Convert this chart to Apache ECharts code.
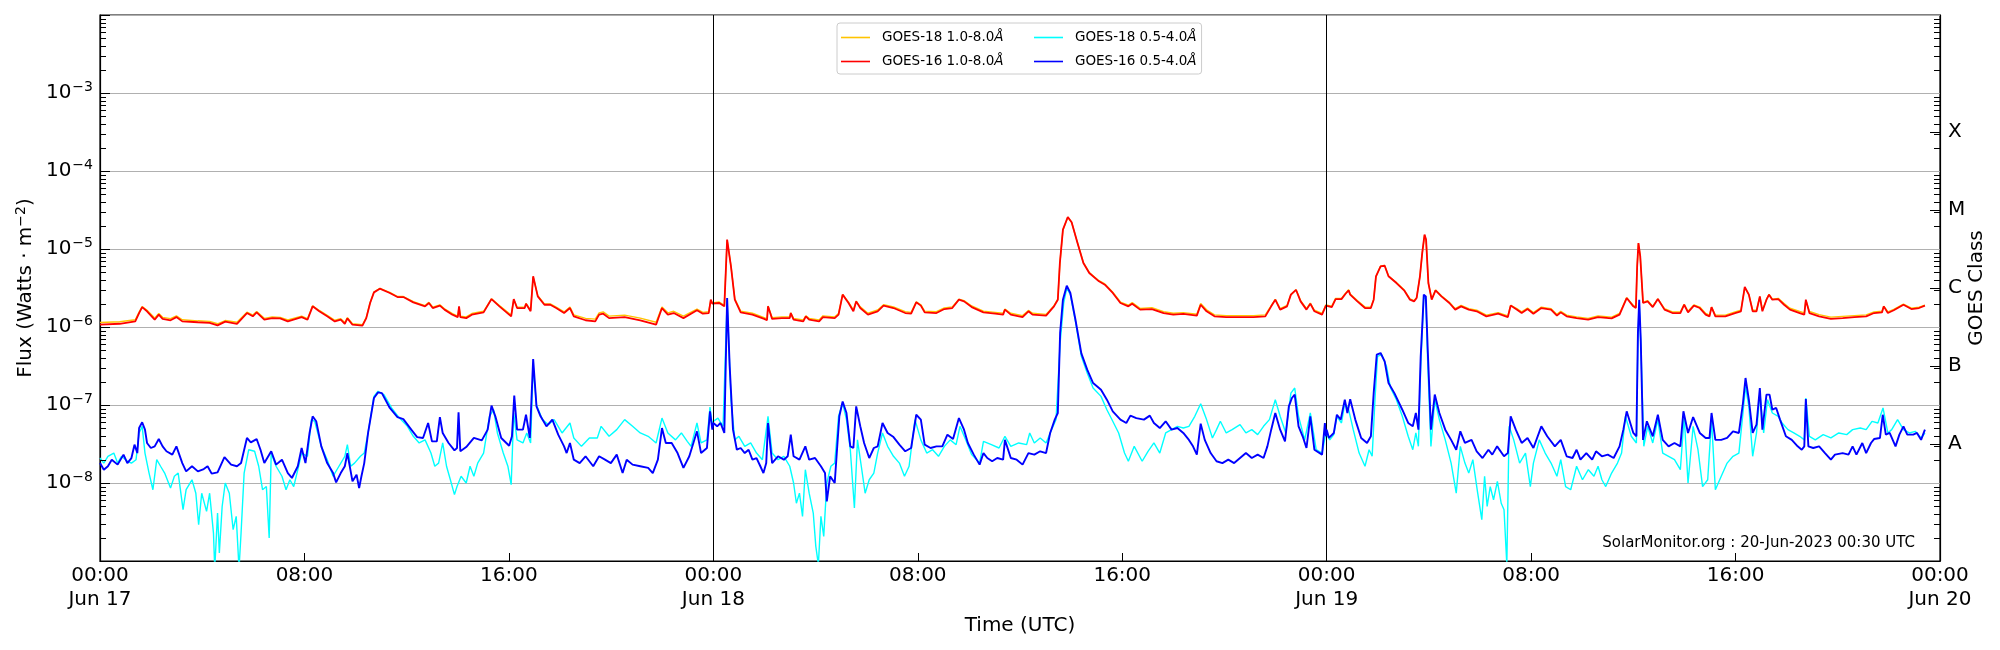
<!DOCTYPE html>
<html><head><meta charset="utf-8">
<script src="https://cdn.jsdelivr.net/npm/echarts@6/dist/echarts.min.js"></script>
<style>html,body{margin:0;padding:0;background:#fff}#c{width:2000px;height:650px}</style>
</head><body><div id="c"></div>
<script>
// ---- data (time in hours since 2023-06-17 00:00 UTC, flux in W/m^2) ----
const seriesNames = ['GOES-18 1.0-8.0Å', 'GOES-16 1.0-8.0Å', 'GOES-18 0.5-4.0Å', 'GOES-16 0.5-4.0Å'];
const xTickLabels = ['00:00\nJun 17','08:00','16:00','00:00\nJun 18','08:00','16:00','00:00\nJun 19','08:00','16:00','00:00\nJun 20'];
const yTickPowers = [-8, -7, -6, -5, -4, -3];
const classLetters = ['A', 'B', 'C', 'M', 'X'];
const classTickValues = [3.1623e-8, 3.1623e-7, 3.1623e-6, 3.1623e-5, 3.1623e-4];
const dayBoundaries = [24, 48];
const watermark = 'SolarMonitor.org : 20-Jun-2023 00:30 UTC';

const goes16Long = [
[0.00,1.07e-6],[0.77,1.10e-6],[1.38,1.18e-6],[1.53,1.51e-6],[1.65,1.80e-6],[1.84,1.59e-6],[2.14,1.24e-6],[2.30,1.44e-6],[2.45,1.27e-6],[2.76,1.22e-6],[2.99,1.34e-6],[3.22,1.18e-6],[3.83,1.15e-6],[4.29,1.13e-6],[4.60,1.05e-6],[4.90,1.17e-6],[5.36,1.10e-6],[5.75,1.51e-6],[5.98,1.37e-6],[6.13,1.54e-6],[6.43,1.24e-6],[6.74,1.30e-6],[7.05,1.29e-6],[7.35,1.18e-6],[7.89,1.34e-6],[8.12,1.24e-6],[8.32,1.84e-6],[8.58,1.59e-6],[8.89,1.37e-6],[9.19,1.18e-6],[9.42,1.24e-6],[9.58,1.10e-6],[9.68,1.29e-6],[9.88,1.07e-6],[10.27,1.04e-6],[10.42,1.30e-6],[10.57,2.03e-6],[10.72,2.78e-6],[10.95,3.10e-6],[11.34,2.73e-6],[11.64,2.42e-6],[11.87,2.42e-6],[12.26,2.07e-6],[12.72,1.84e-6],[12.87,2.03e-6],[13.02,1.75e-6],[13.30,1.88e-6],[13.48,1.67e-6],[13.79,1.44e-6],[14.00,1.34e-6],[14.05,1.84e-6],[14.10,1.34e-6],[14.33,1.30e-6],[14.55,1.44e-6],[15.01,1.54e-6],[15.32,2.28e-6],[15.63,1.84e-6],[16.09,1.37e-6],[16.19,2.28e-6],[16.32,1.75e-6],[16.62,1.75e-6],[16.67,1.99e-6],[16.85,1.59e-6],[16.95,4.47e-6],[17.13,2.47e-6],[17.39,1.93e-6],[17.62,1.93e-6],[17.85,1.75e-6],[18.16,1.51e-6],[18.39,1.75e-6],[18.54,1.37e-6],[19.00,1.22e-6],[19.38,1.18e-6],[19.53,1.44e-6],[19.69,1.48e-6],[19.92,1.30e-6],[20.53,1.34e-6],[21.14,1.22e-6],[21.76,1.07e-6],[21.99,1.75e-6],[22.22,1.44e-6],[22.45,1.51e-6],[22.83,1.30e-6],[23.36,1.64e-6],[23.59,1.48e-6],[23.82,1.51e-6],[23.90,2.24e-6],[23.96,1.99e-6],
[24.00,1.93e-6],[24.23,2.03e-6],[24.43,1.84e-6],[24.54,1.32e-5],[24.69,6.0e-6],[24.84,2.24e-6],[25.07,1.54e-6],[25.53,1.44e-6],[25.99,1.27e-6],[26.10,1.22e-6],[26.14,1.84e-6],[26.30,1.27e-6],[26.68,1.30e-6],[26.99,1.30e-6],[27.03,1.51e-6],[27.14,1.24e-6],[27.52,1.18e-6],[27.62,1.37e-6],[27.75,1.24e-6],[28.14,1.18e-6],[28.29,1.34e-6],[28.75,1.30e-6],[28.90,1.44e-6],[29.06,2.6e-6],[29.29,2.03e-6],[29.48,1.59e-6],[29.59,2.13e-6],[29.75,1.75e-6],[30.05,1.44e-6],[30.43,1.59e-6],[30.66,1.88e-6],[31.05,1.75e-6],[31.51,1.51e-6],[31.74,1.48e-6],[31.94,2.07e-6],[32.12,1.88e-6],[32.27,1.54e-6],[32.73,1.51e-6],[33.04,1.70e-6],[33.35,1.75e-6],[33.61,2.24e-6],[33.81,2.13e-6],[34.11,1.80e-6],[34.57,1.54e-6],[35.03,1.48e-6],[35.34,1.44e-6],[35.41,1.67e-6],[35.64,1.44e-6],[36.10,1.34e-6],[36.33,1.59e-6],[36.49,1.44e-6],[37.02,1.40e-6],[37.33,1.84e-6],[37.48,2.24e-6],[37.56,6.6e-6],[37.68,1.77e-5],[37.87,2.57e-5],[38.02,2.2e-5],[38.25,1.19e-5],[38.48,6.6e-6],[38.71,4.92e-6],[39.09,3.85e-6],[39.32,3.49e-6],[39.63,2.73e-6],[39.93,2.03e-6],[40.24,1.84e-6],[40.39,1.99e-6],[40.70,1.67e-6],[41.16,1.70e-6],[41.62,1.51e-6],[42.00,1.44e-6],[42.39,1.47e-6],[42.92,1.40e-6],[43.07,1.93e-6],[43.30,1.59e-6],[43.61,1.37e-6],[44.07,1.34e-6],[44.61,1.34e-6],[45.14,1.34e-6],[45.60,1.37e-6],[45.83,1.84e-6],[45.99,2.24e-6],[46.18,1.67e-6],[46.45,1.84e-6],[46.60,2.6e-6],[46.80,3.0e-6],[46.98,2.13e-6],[47.21,1.67e-6],[47.36,1.99e-6],[47.52,1.59e-6],[47.82,1.44e-6],[47.97,1.88e-6],
[48.20,1.80e-6],[48.35,2.28e-6],[48.58,2.28e-6],[48.74,2.67e-6],[48.86,2.95e-6],[48.92,2.6e-6],[49.20,2.13e-6],[49.50,1.75e-6],[49.73,1.75e-6],[49.84,2.24e-6],[49.93,4.47e-6],[50.11,6.0e-6],[50.27,6.1e-6],[50.42,4.47e-6],[50.73,3.66e-6],[51.03,2.95e-6],[51.26,2.24e-6],[51.42,2.13e-6],[51.52,2.35e-6],[51.65,4.47e-6],[51.74,8.9e-6],[51.83,1.53e-5],[51.89,1.32e-5],[51.98,3.66e-6],[52.11,2.24e-6],[52.26,2.95e-6],[52.49,2.47e-6],[52.80,2.03e-6],[53.03,1.67e-6],[53.26,1.84e-6],[53.56,1.67e-6],[53.87,1.59e-6],[54.25,1.37e-6],[54.71,1.48e-6],[55.09,1.34e-6],[55.20,1.88e-6],[55.48,1.64e-6],[55.63,1.51e-6],[55.86,1.70e-6],[56.09,1.48e-6],[56.40,1.75e-6],[56.78,1.67e-6],[57.01,1.40e-6],[57.16,1.54e-6],[57.39,1.37e-6],[57.78,1.30e-6],[58.23,1.24e-6],[58.62,1.34e-6],[59.15,1.29e-6],[59.46,1.44e-6],[59.74,2.35e-6],[60.00,1.84e-6],[60.10,1.75e-6],[60.15,6.0e-6],[60.20,1.19e-5],[60.27,8.1e-6],[60.38,2.03e-6],[60.56,2.13e-6],[60.76,1.80e-6],[60.96,2.28e-6],[61.22,1.67e-6],[61.53,1.51e-6],[61.84,1.51e-6],[61.99,1.93e-6],[62.14,1.54e-6],[62.37,1.88e-6],[62.60,1.75e-6],[62.83,1.44e-6],[62.98,1.37e-6],[63.06,1.80e-6],[63.21,1.37e-6],[63.60,1.37e-6],[63.98,1.51e-6],[64.21,1.59e-6],[64.36,3.26e-6],[64.52,2.6e-6],[64.67,1.59e-6],[64.82,1.59e-6],[64.95,2.47e-6],[65.05,1.59e-6],[65.21,2.24e-6],[65.31,2.6e-6],[65.44,2.24e-6],[65.67,2.28e-6],[65.90,1.93e-6],[66.13,1.67e-6],[66.51,1.51e-6],[66.69,1.44e-6],[66.75,2.24e-6],[66.89,1.51e-6],[67.27,1.37e-6],[67.73,1.27e-6],[68.19,1.30e-6],[68.65,1.34e-6],[69.11,1.37e-6],[69.42,1.51e-6],[69.73,1.54e-6],[69.80,1.84e-6],[69.96,1.51e-6],[70.19,1.64e-6],[70.57,1.93e-6],[70.88,1.70e-6],[71.18,1.75e-6],[71.41,1.88e-6]
];

const goes18Long = [
[0.00,1.14e-6],[0.77,1.17e-6],[1.38,1.24e-6],[1.53,1.55e-6],[1.65,1.83e-6],[1.84,1.64e-6],[2.14,1.30e-6],[2.30,1.49e-6],[2.45,1.33e-6],[2.76,1.28e-6],[2.99,1.39e-6],[3.22,1.24e-6],[3.83,1.20e-6],[4.29,1.18e-6],[4.60,1.10e-6],[4.90,1.21e-6],[5.36,1.15e-6],[5.75,1.55e-6],[5.98,1.42e-6],[6.13,1.58e-6],[6.43,1.29e-6],[6.74,1.35e-6],[7.05,1.33e-6],[7.35,1.23e-6],[7.89,1.38e-6],[8.12,1.28e-6],[8.32,1.87e-6],[8.58,1.63e-6],[8.89,1.41e-6],[9.19,1.22e-6],[9.42,1.28e-6],[9.58,1.14e-6],[9.68,1.32e-6],[9.88,1.10e-6],[10.27,1.07e-6],[10.42,1.33e-6],[10.57,2.06e-6],[10.72,2.81e-6],[10.95,3.13e-6],[11.34,2.77e-6],[11.64,2.46e-6],[11.87,2.46e-6],[12.26,2.11e-6],[12.72,1.88e-6],[12.87,2.07e-6],[13.02,1.79e-6],[13.30,1.92e-6],[13.48,1.71e-6],[13.79,1.48e-6],[14.00,1.38e-6],[14.05,1.80e-6],[14.10,1.38e-6],[14.33,1.35e-6],[14.55,1.49e-6],[15.01,1.59e-6],[15.32,2.30e-6],[15.63,1.89e-6],[16.09,1.42e-6],[16.19,2.25e-6],[16.32,1.80e-6],[16.62,1.80e-6],[16.67,2.00e-6],[16.85,1.64e-6],[16.95,4.40e-6],[17.13,2.52e-6],[17.39,1.98e-6],[17.62,1.98e-6],[17.85,1.80e-6],[18.16,1.56e-6],[18.39,1.80e-6],[18.54,1.43e-6],[19.00,1.29e-6],[19.38,1.26e-6],[19.53,1.52e-6],[19.69,1.56e-6],[19.92,1.38e-6],[20.53,1.42e-6],[21.14,1.30e-6],[21.76,1.15e-6],[21.99,1.80e-6],[22.22,1.52e-6],[22.45,1.59e-6],[22.83,1.38e-6],[23.36,1.70e-6],[23.59,1.54e-6],[23.82,1.57e-6],[23.90,2.20e-6],[23.96,2.04e-6],
[24.00,1.99e-6],[24.23,2.09e-6],[24.43,1.90e-6],[24.54,1.30e-5],[24.69,6.1e-6],[24.84,2.30e-6],[25.07,1.60e-6],[25.53,1.50e-6],[25.99,1.32e-6],[26.10,1.27e-6],[26.14,1.86e-6],[26.30,1.32e-6],[26.68,1.35e-6],[26.99,1.35e-6],[27.03,1.52e-6],[27.14,1.29e-6],[27.52,1.23e-6],[27.62,1.39e-6],[27.75,1.29e-6],[28.14,1.23e-6],[28.29,1.39e-6],[28.75,1.35e-6],[28.90,1.49e-6],[29.06,2.62e-6],[29.29,2.08e-6],[29.48,1.65e-6],[29.59,2.15e-6],[29.75,1.81e-6],[30.05,1.50e-6],[30.43,1.65e-6],[30.66,1.93e-6],[31.05,1.81e-6],[31.51,1.57e-6],[31.74,1.54e-6],[31.94,2.10e-6],[32.12,1.93e-6],[32.27,1.60e-6],[32.73,1.57e-6],[33.04,1.76e-6],[33.35,1.81e-6],[33.61,2.27e-6],[33.81,2.18e-6],[34.11,1.86e-6],[34.57,1.60e-6],[35.03,1.54e-6],[35.34,1.50e-6],[35.41,1.70e-6],[35.64,1.50e-6],[36.10,1.40e-6],[36.33,1.63e-6],[36.49,1.50e-6],[37.02,1.45e-6],[37.33,1.88e-6],[37.48,2.27e-6],[37.56,6.5e-6],[37.68,1.75e-5],[37.87,2.55e-5],[38.02,2.2e-5],[38.25,1.2e-5],[38.48,6.7e-6],[38.71,5.0e-6],[39.09,3.92e-6],[39.32,3.56e-6],[39.63,2.79e-6],[39.93,2.09e-6],[40.24,1.90e-6],[40.39,2.05e-6],[40.70,1.73e-6],[41.16,1.77e-6],[41.62,1.57e-6],[42.00,1.50e-6],[42.39,1.53e-6],[42.92,1.46e-6],[43.07,2.00e-6],[43.30,1.66e-6],[43.61,1.43e-6],[44.07,1.40e-6],[44.61,1.40e-6],[45.14,1.40e-6],[45.60,1.43e-6],[45.83,1.88e-6],[45.99,2.26e-6],[46.18,1.72e-6],[46.45,1.89e-6],[46.60,2.6e-6],[46.80,3.0e-6],[46.98,2.18e-6],[47.21,1.72e-6],[47.36,2.02e-6],[47.52,1.64e-6],[47.82,1.49e-6],[47.97,1.92e-6],
[48.20,1.85e-6],[48.35,2.33e-6],[48.58,2.33e-6],[48.74,2.72e-6],[48.86,3.0e-6],[48.92,2.65e-6],[49.20,2.18e-6],[49.50,1.80e-6],[49.73,1.80e-6],[49.84,2.26e-6],[49.93,4.45e-6],[50.11,6.05e-6],[50.27,6.15e-6],[50.42,4.5e-6],[50.73,3.72e-6],[51.03,3.0e-6],[51.26,2.29e-6],[51.42,2.18e-6],[51.52,2.38e-6],[51.65,4.45e-6],[51.74,8.8e-6],[51.83,1.5e-5],[51.89,1.3e-5],[51.98,3.66e-6],[52.11,2.28e-6],[52.26,2.99e-6],[52.49,2.52e-6],[52.80,2.08e-6],[53.03,1.72e-6],[53.26,1.89e-6],[53.56,1.72e-6],[53.87,1.64e-6],[54.25,1.42e-6],[54.71,1.53e-6],[55.09,1.39e-6],[55.20,1.90e-6],[55.48,1.69e-6],[55.63,1.56e-6],[55.86,1.75e-6],[56.09,1.53e-6],[56.40,1.80e-6],[56.78,1.72e-6],[57.01,1.45e-6],[57.16,1.59e-6],[57.39,1.42e-6],[57.78,1.35e-6],[58.23,1.29e-6],[58.62,1.39e-6],[59.15,1.34e-6],[59.46,1.49e-6],[59.74,2.38e-6],[60.00,1.89e-6],[60.10,1.80e-6],[60.15,5.9e-6],[60.20,1.18e-5],[60.27,8.0e-6],[60.38,2.08e-6],[60.56,2.18e-6],[60.76,1.85e-6],[60.96,2.30e-6],[61.22,1.72e-6],[61.53,1.56e-6],[61.84,1.56e-6],[61.99,1.95e-6],[62.14,1.59e-6],[62.37,1.92e-6],[62.60,1.80e-6],[62.83,1.49e-6],[62.98,1.42e-6],[63.06,1.80e-6],[63.21,1.42e-6],[63.60,1.42e-6],[63.98,1.56e-6],[64.21,1.64e-6],[64.36,3.2e-6],[64.52,2.62e-6],[64.67,1.64e-6],[64.82,1.64e-6],[64.95,2.45e-6],[65.05,1.64e-6],[65.21,2.26e-6],[65.31,2.62e-6],[65.44,2.28e-6],[65.67,2.33e-6],[65.90,2.00e-6],[66.13,1.74e-6],[66.51,1.58e-6],[66.69,1.52e-6],[66.75,2.20e-6],[66.89,1.58e-6],[67.27,1.44e-6],[67.73,1.34e-6],[68.19,1.37e-6],[68.65,1.40e-6],[69.11,1.43e-6],[69.42,1.56e-6],[69.73,1.59e-6],[69.80,1.85e-6],[69.96,1.56e-6],[70.19,1.68e-6],[70.57,1.96e-6],[70.88,1.74e-6],[71.18,1.79e-6],[71.41,1.90e-6]
];

const goes16Short = [
[0.00,1.8e-8],[0.15,1.48e-8],[0.31,1.64e-8],[0.46,1.99e-8],[0.69,1.72e-8],[0.92,2.31e-8],[1.07,1.8e-8],[1.23,2.09e-8],[1.35,3.10e-8],[1.46,2.42e-8],[1.53,5.07e-8],[1.65,6.0e-8],[1.76,4.83e-8],[1.84,3.26e-8],[1.99,2.81e-8],[2.14,2.95e-8],[2.30,3.66e-8],[2.45,2.95e-8],[2.60,2.55e-8],[2.83,2.31e-8],[2.99,2.95e-8],[3.22,1.8e-8],[3.37,1.41e-8],[3.60,1.64e-8],[3.83,1.41e-8],[4.06,1.51e-8],[4.21,1.64e-8],[4.37,1.32e-8],[4.60,1.37e-8],[4.87,2.15e-8],[5.13,1.72e-8],[5.36,1.64e-8],[5.52,1.8e-8],[5.75,3.78e-8],[5.90,3.32e-8],[6.13,3.66e-8],[6.28,2.67e-8],[6.43,1.8e-8],[6.70,2.55e-8],[6.89,1.72e-8],[7.12,1.99e-8],[7.35,1.34e-8],[7.51,1.16e-8],[7.74,1.64e-8],[7.89,2.81e-8],[8.04,1.8e-8],[8.20,4.38e-8],[8.32,7.16e-8],[8.46,6.18e-8],[8.66,2.95e-8],[8.89,1.8e-8],[9.12,1.34e-8],[9.24,1.02e-8],[9.42,1.34e-8],[9.58,1.64e-8],[9.68,2.42e-8],[9.88,1.05e-8],[10.04,1.28e-8],[10.14,8.6e-9],[10.23,1.22e-8],[10.34,1.8e-8],[10.49,4.38e-8],[10.72,1.23e-7],[10.88,1.45e-7],[11.03,1.42e-7],[11.34,9.16e-8],[11.64,7.0e-8],[11.87,6.6e-8],[12.18,4.83e-8],[12.41,3.88e-8],[12.64,3.78e-8],[12.84,5.88e-8],[12.99,3.42e-8],[13.18,3.42e-8],[13.30,7.0e-8],[13.41,4.38e-8],[13.64,3.26e-8],[13.87,2.62e-8],[13.97,2.81e-8],[14.03,8.05e-8],[14.10,2.55e-8],[14.33,2.89e-8],[14.63,3.78e-8],[14.94,3.52e-8],[15.17,4.83e-8],[15.32,9.8e-8],[15.47,7.16e-8],[15.70,3.78e-8],[16.01,3.0e-8],[16.12,3.97e-8],[16.21,1.32e-7],[16.32,4.83e-8],[16.55,4.83e-8],[16.67,7.5e-8],[16.82,3.78e-8],[16.95,3.89e-7],[17.08,9.6e-8],[17.24,7.16e-8],[17.47,5.33e-8],[17.70,6.5e-8],[17.93,4.17e-8],[18.16,2.95e-8],[18.26,2.42e-8],[18.39,3.26e-8],[18.54,1.99e-8],[18.77,1.8e-8],[19.00,2.2e-8],[19.30,1.64e-8],[19.53,2.2e-8],[19.76,1.99e-8],[19.99,1.8e-8],[20.22,2.31e-8],[20.45,1.34e-8],[20.61,1.99e-8],[20.84,1.72e-8],[21.14,1.64e-8],[21.45,1.56e-8],[21.63,1.34e-8],[21.83,1.99e-8],[21.99,5.07e-8],[22.14,3.26e-8],[22.37,3.26e-8],[22.60,2.42e-8],[22.83,1.56e-8],[23.06,2.2e-8],[23.36,4.6e-8],[23.52,2.42e-8],[23.75,2.81e-8],[23.87,8.3e-8],[23.96,4.83e-8],
[24.00,5.88e-8],[24.15,5.33e-8],[24.28,5.88e-8],[24.43,4.38e-8],[24.54,2.35e-6],[24.64,3.13e-7],[24.77,4.83e-8],[24.92,2.67e-8],[25.07,2.81e-8],[25.23,2.42e-8],[25.38,2.67e-8],[25.53,1.99e-8],[25.69,2.09e-8],[25.84,1.64e-8],[25.96,1.34e-8],[26.07,1.8e-8],[26.14,5.88e-8],[26.30,1.8e-8],[26.53,2.2e-8],[26.76,1.99e-8],[26.91,2.2e-8],[27.03,4.17e-8],[27.14,2.2e-8],[27.37,1.99e-8],[27.60,2.95e-8],[27.75,1.99e-8],[27.98,2.09e-8],[28.21,1.64e-8],[28.37,1.34e-8],[28.44,5.8e-9],[28.57,1.22e-8],[28.75,1.0e-8],[28.83,2.42e-8],[28.93,7.16e-8],[29.06,1.11e-7],[29.21,7.9e-8],[29.36,2.95e-8],[29.48,2.81e-8],[29.59,9.6e-8],[29.75,5.33e-8],[29.90,3.26e-8],[30.10,2.09e-8],[30.28,2.81e-8],[30.43,2.95e-8],[30.62,5.88e-8],[30.82,4.38e-8],[31.05,3.88e-8],[31.28,3.1e-8],[31.51,2.55e-8],[31.74,2.81e-8],[31.94,7.5e-8],[32.12,6.5e-8],[32.27,3.1e-8],[32.50,2.81e-8],[32.73,2.95e-8],[32.96,2.95e-8],[33.16,4.17e-8],[33.38,3.66e-8],[33.61,6.8e-8],[33.81,4.83e-8],[33.96,3.26e-8],[34.19,2.31e-8],[34.42,1.72e-8],[34.57,2.42e-8],[34.72,2.09e-8],[34.91,1.9e-8],[35.11,2.09e-8],[35.34,1.99e-8],[35.41,3.57e-8],[35.64,2.09e-8],[35.87,1.99e-8],[36.10,1.72e-8],[36.33,2.42e-8],[36.56,2.31e-8],[36.79,2.55e-8],[37.02,2.42e-8],[37.18,4.38e-8],[37.36,6.5e-8],[37.48,7.9e-8],[37.57,8.4e-7],[37.68,2.24e-6],[37.83,3.39e-6],[37.97,2.73e-6],[38.17,1.24e-6],[38.40,4.6e-7],[38.63,2.84e-7],[38.86,1.91e-7],[39.17,1.57e-7],[39.40,1.17e-7],[39.63,8.3e-8],[39.93,6.5e-8],[40.16,5.88e-8],[40.32,7.3e-8],[40.55,6.8e-8],[40.85,6.5e-8],[41.08,7.3e-8],[41.24,5.88e-8],[41.47,5.07e-8],[41.70,6.18e-8],[41.93,4.83e-8],[42.16,5.07e-8],[42.39,4.38e-8],[42.61,3.57e-8],[42.77,2.95e-8],[42.92,2.31e-8],[43.07,5.76e-8],[43.23,3.57e-8],[43.46,2.42e-8],[43.69,1.9e-8],[43.92,1.8e-8],[44.15,1.99e-8],[44.38,1.8e-8],[44.61,2.09e-8],[44.84,2.42e-8],[45.07,2.09e-8],[45.30,2.31e-8],[45.53,2.09e-8],[45.68,2.95e-8],[45.83,4.83e-8],[45.99,7.9e-8],[46.18,4.83e-8],[46.37,3.42e-8],[46.52,9.6e-8],[46.64,1.23e-7],[46.75,1.36e-7],[46.90,5.33e-8],[47.06,3.97e-8],[47.21,2.81e-8],[47.36,7.16e-8],[47.52,2.67e-8],[47.82,2.31e-8],[47.93,5.88e-8],[47.97,3.97e-8],
[48.00,4.83e-8],[48.09,3.78e-8],[48.28,4.38e-8],[48.40,7.5e-8],[48.55,6.5e-8],[48.71,1.17e-7],[48.81,7.9e-8],[48.92,1.19e-7],[49.12,6.5e-8],[49.35,3.78e-8],[49.58,3.26e-8],[49.73,3.97e-8],[49.84,1.42e-7],[49.96,4.42e-7],[50.11,4.64e-7],[50.27,3.63e-7],[50.42,1.91e-7],[50.65,1.42e-7],[50.96,8.7e-8],[51.19,5.88e-8],[51.37,5.33e-8],[51.49,7.9e-8],[51.59,4.83e-8],[51.68,4.2e-7],[51.74,1.02e-6],[51.80,2.6e-6],[51.88,2.47e-6],[51.95,5.65e-7],[52.08,4.83e-8],[52.23,1.36e-7],[52.41,7.9e-8],[52.64,4.83e-8],[52.87,3.57e-8],[53.07,2.67e-8],[53.23,4.6e-8],[53.41,3.26e-8],[53.67,3.57e-8],[53.87,2.55e-8],[54.10,2.09e-8],[54.33,2.67e-8],[54.48,2.31e-8],[54.67,2.95e-8],[54.94,2.2e-8],[55.09,2.42e-8],[55.20,7.16e-8],[55.40,4.83e-8],[55.63,3.26e-8],[55.86,3.78e-8],[56.09,2.81e-8],[56.40,5.33e-8],[56.63,3.97e-8],[56.93,2.95e-8],[57.16,3.57e-8],[57.39,2.2e-8],[57.62,2.09e-8],[57.78,2.67e-8],[57.93,1.99e-8],[58.16,2.42e-8],[58.39,1.99e-8],[58.54,2.55e-8],[58.77,2.2e-8],[59.00,2.31e-8],[59.23,2.09e-8],[59.46,2.95e-8],[59.61,4.83e-8],[59.74,8.3e-8],[60.00,4.38e-8],[60.12,3.97e-8],[60.18,8.4e-7],[60.23,2.24e-6],[60.29,6.9e-7],[60.38,3.57e-8],[60.53,6.18e-8],[60.76,3.97e-8],[60.96,7.5e-8],[61.15,3.57e-8],[61.38,2.95e-8],[61.61,3.26e-8],[61.84,2.95e-8],[61.96,8.3e-8],[62.14,4.38e-8],[62.34,7.0e-8],[62.60,4.38e-8],[62.83,3.78e-8],[62.98,3.78e-8],[63.06,7.9e-8],[63.21,3.57e-8],[63.44,3.57e-8],[63.67,3.78e-8],[63.90,4.6e-8],[64.13,4.38e-8],[64.29,1.06e-7],[64.39,2.22e-7],[64.52,1.17e-7],[64.67,4.38e-8],[64.82,5.6e-8],[64.95,1.65e-7],[65.05,4.83e-8],[65.21,1.36e-7],[65.33,1.36e-7],[65.44,8.7e-8],[65.59,9.16e-8],[65.74,6.5e-8],[65.97,3.97e-8],[66.20,3.57e-8],[66.43,2.95e-8],[66.59,2.67e-8],[66.69,2.95e-8],[66.75,1.19e-7],[66.85,2.95e-8],[67.04,2.81e-8],[67.27,2.95e-8],[67.50,2.42e-8],[67.73,1.99e-8],[67.89,2.31e-8],[68.19,2.42e-8],[68.42,2.31e-8],[68.58,2.95e-8],[68.73,2.31e-8],[68.96,3.26e-8],[69.11,2.42e-8],[69.30,3.26e-8],[69.42,3.66e-8],[69.65,3.78e-8],[69.76,7.5e-8],[69.88,4.17e-8],[70.03,4.38e-8],[70.26,2.95e-8],[70.41,4.17e-8],[70.57,5.33e-8],[70.72,4.17e-8],[70.95,4.17e-8],[71.10,4.38e-8],[71.26,3.57e-8],[71.41,4.83e-8]
];

const goes18Short = [
[0.00,2.09e-8],[0.15,1.8e-8],[0.31,2.2e-8],[0.54,2.42e-8],[0.69,1.8e-8],[0.84,2.2e-8],[1.07,1.9e-8],[1.23,1.8e-8],[1.41,1.99e-8],[1.53,4.38e-8],[1.65,5.33e-8],[1.76,2.42e-8],[1.92,1.34e-8],[2.07,8.2e-9],[2.22,1.99e-8],[2.37,1.64e-8],[2.53,1.34e-8],[2.76,8.6e-9],[2.91,1.22e-8],[3.06,1.34e-8],[3.25,4.55e-9],[3.37,8.2e-9],[3.60,1.10e-8],[3.75,7.4e-9],[3.86,2.92e-9],[3.98,7.4e-9],[4.17,4.33e-9],[4.29,7.4e-9],[4.44,2.28e-9],[4.49,8e-10],[4.60,4.12e-9],[4.67,1.27e-9],[4.78,5.0e-9],[4.90,1.0e-8],[5.06,7.4e-9],[5.21,2.52e-9],[5.33,3.73e-9],[5.44,8e-10],[5.52,2.28e-9],[5.64,1.34e-8],[5.82,2.67e-8],[6.05,2.55e-8],[6.21,1.64e-8],[6.36,8.2e-9],[6.51,9.0e-9],[6.62,1.97e-9],[6.70,2.42e-8],[6.89,1.64e-8],[7.12,1.22e-8],[7.28,8.2e-9],[7.43,1.10e-8],[7.58,9.0e-9],[7.74,1.48e-8],[7.89,2.42e-8],[8.12,2.2e-8],[8.27,6.5e-8],[8.40,6.18e-8],[8.66,2.95e-8],[8.89,1.99e-8],[9.12,1.22e-8],[9.35,1.64e-8],[9.58,2.2e-8],[9.68,3.1e-8],[9.81,1.64e-8],[9.96,1.8e-8],[10.19,2.2e-8],[10.34,2.42e-8],[10.49,4.38e-8],[10.72,1.29e-7],[10.88,1.5e-7],[11.11,1.36e-7],[11.41,9.16e-8],[11.72,6.8e-8],[12.03,5.33e-8],[12.26,3.97e-8],[12.49,3.26e-8],[12.72,3.57e-8],[12.95,2.42e-8],[13.10,1.64e-8],[13.25,1.8e-8],[13.41,3.26e-8],[13.56,1.64e-8],[13.71,1.10e-8],[13.87,7.1e-9],[13.97,9.0e-9],[14.13,1.22e-8],[14.33,1.0e-8],[14.48,1.64e-8],[14.63,1.22e-8],[14.78,1.8e-8],[15.01,2.42e-8],[15.24,7.16e-8],[15.40,8.72e-8],[15.55,4.38e-8],[15.78,2.42e-8],[15.96,1.64e-8],[16.09,9.5e-9],[16.19,7.9e-8],[16.32,3.57e-8],[16.55,3.26e-8],[16.70,4.38e-8],[16.85,3.26e-8],[16.95,3.13e-7],[17.08,1.0e-7],[17.31,6.5e-8],[17.54,5.6e-8],[17.77,6.5e-8],[18.08,4.38e-8],[18.39,5.88e-8],[18.54,3.78e-8],[18.84,2.95e-8],[19.15,3.78e-8],[19.46,3.78e-8],[19.61,5.33e-8],[19.92,3.97e-8],[20.22,4.83e-8],[20.53,6.5e-8],[20.84,5.33e-8],[21.14,4.38e-8],[21.45,3.97e-8],[21.76,3.26e-8],[21.99,6.8e-8],[22.22,4.38e-8],[22.52,3.57e-8],[22.75,4.38e-8],[22.98,3.42e-8],[23.13,2.95e-8],[23.36,5.88e-8],[23.52,3.26e-8],[23.75,3.57e-8],[23.87,9.4e-8],[23.96,5.33e-8],
[24.00,6.18e-8],[24.18,6.8e-8],[24.38,5.33e-8],[24.54,2.2e-6],[24.69,1.17e-7],[24.84,3.57e-8],[25.00,3.97e-8],[25.23,2.95e-8],[25.46,3.26e-8],[25.69,2.42e-8],[25.92,1.99e-8],[26.14,7.16e-8],[26.30,2.42e-8],[26.53,1.99e-8],[26.76,2.2e-8],[26.99,1.64e-8],[27.14,1.0e-8],[27.25,5.5e-9],[27.37,7.4e-9],[27.49,3.73e-9],[27.60,1.48e-8],[27.75,7.4e-9],[27.91,4.12e-9],[28.01,1.54e-9],[28.11,9e-10],[28.21,3.73e-9],[28.32,2.07e-9],[28.44,1.0e-8],[28.60,1.64e-8],[28.75,1.8e-8],[28.90,7.16e-8],[29.06,1.06e-7],[29.21,6.5e-8],[29.36,2.67e-8],[29.52,4.78e-9],[29.64,3.57e-8],[29.79,1.64e-8],[29.94,7.4e-9],[30.10,1.10e-8],[30.28,1.34e-8],[30.43,2.42e-8],[30.62,4.38e-8],[30.82,2.95e-8],[31.05,2.2e-8],[31.28,1.8e-8],[31.48,1.22e-8],[31.66,1.64e-8],[31.89,6.5e-8],[32.12,3.57e-8],[32.35,2.42e-8],[32.58,2.67e-8],[32.81,2.2e-8],[33.04,2.95e-8],[33.27,3.57e-8],[33.50,3.1e-8],[33.65,5.33e-8],[33.88,3.57e-8],[34.11,2.31e-8],[34.42,1.8e-8],[34.57,3.42e-8],[34.88,3.1e-8],[35.18,2.81e-8],[35.41,3.97e-8],[35.64,2.95e-8],[35.95,3.26e-8],[36.26,3.1e-8],[36.38,4.38e-8],[36.56,3.26e-8],[36.79,3.78e-8],[37.02,3.26e-8],[37.21,4.6e-8],[37.41,6.5e-8],[37.57,6.2e-7],[37.71,2.03e-6],[37.83,3.16e-6],[37.97,2.6e-6],[38.17,1.18e-6],[38.40,4.2e-7],[38.63,2.57e-7],[38.86,1.65e-7],[39.17,1.29e-7],[39.40,8.7e-8],[39.63,6.18e-8],[39.86,4.38e-8],[40.09,2.42e-8],[40.24,1.9e-8],[40.47,2.95e-8],[40.78,1.9e-8],[41.01,2.55e-8],[41.24,3.26e-8],[41.47,2.42e-8],[41.70,4.38e-8],[41.93,4.83e-8],[42.16,5.33e-8],[42.39,5.07e-8],[42.61,5.33e-8],[42.84,7.16e-8],[43.07,1.04e-7],[43.30,6.5e-8],[43.53,3.78e-8],[43.69,4.83e-8],[43.84,6.18e-8],[44.07,4.38e-8],[44.30,4.83e-8],[44.61,5.6e-8],[44.84,4.38e-8],[45.07,4.83e-8],[45.30,4.17e-8],[45.53,5.33e-8],[45.76,6.5e-8],[45.99,1.17e-7],[46.18,7.16e-8],[46.40,4.38e-8],[46.60,1.42e-7],[46.75,1.65e-7],[46.90,7.16e-8],[47.14,3.57e-8],[47.36,7.9e-8],[47.59,2.67e-8],[47.82,2.42e-8],[47.97,4.38e-8],
[48.12,3.57e-8],[48.28,4.17e-8],[48.40,7.16e-8],[48.58,5.88e-8],[48.71,1.06e-7],[48.86,8.7e-8],[49.04,4.83e-8],[49.27,2.42e-8],[49.50,1.64e-8],[49.66,2.67e-8],[49.78,2.2e-8],[49.89,1.17e-7],[49.99,4.2e-7],[50.15,4.42e-7],[50.34,3.13e-7],[50.50,1.65e-7],[50.73,1.17e-7],[50.96,7.16e-8],[51.19,3.97e-8],[51.37,2.67e-8],[51.49,4.38e-8],[51.59,2.95e-8],[51.68,3.13e-7],[51.80,2.47e-6],[51.88,2.24e-6],[51.95,3.8e-7],[52.08,2.95e-8],[52.23,1.17e-7],[52.41,6.5e-8],[52.64,3.57e-8],[52.87,1.8e-8],[53.07,7.4e-9],[53.23,2.95e-8],[53.41,1.8e-8],[53.56,1.34e-8],[53.72,1.99e-8],[53.91,7.4e-9],[54.07,3.39e-9],[54.18,1.22e-8],[54.28,5.0e-9],[54.40,9.0e-9],[54.53,6.1e-9],[54.68,1.05e-8],[54.83,5.5e-9],[54.94,4.55e-9],[55.05,9e-10],[55.14,5.33e-8],[55.32,3.57e-8],[55.55,1.8e-8],[55.78,2.42e-8],[55.97,9.0e-9],[56.09,1.8e-8],[56.32,3.57e-8],[56.55,2.42e-8],[56.78,1.8e-8],[57.01,1.22e-8],[57.16,1.99e-8],[57.35,9.0e-9],[57.55,8.2e-9],[57.78,1.64e-8],[58.01,1.10e-8],[58.24,1.48e-8],[58.46,1.22e-8],[58.62,1.64e-8],[58.77,1.10e-8],[58.92,9.0e-9],[59.15,1.34e-8],[59.38,1.8e-8],[59.54,2.42e-8],[59.69,7.16e-8],[59.92,3.97e-8],[60.12,3.26e-8],[60.18,6.9e-7],[60.23,2.03e-6],[60.30,5.13e-7],[60.41,2.95e-8],[60.56,5.33e-8],[60.76,3.26e-8],[60.96,6.5e-8],[61.15,2.42e-8],[61.38,2.2e-8],[61.61,1.99e-8],[61.84,1.48e-8],[61.99,7.16e-8],[62.14,1.0e-8],[62.34,5.33e-8],[62.53,2.67e-8],[62.71,9.0e-9],[62.91,1.10e-8],[63.06,6.5e-8],[63.21,8.2e-9],[63.44,1.22e-8],[63.67,1.8e-8],[63.90,2.2e-8],[64.13,2.42e-8],[64.29,7.9e-8],[64.39,1.73e-7],[64.52,9.6e-8],[64.67,2.2e-8],[64.82,4.38e-8],[64.95,1.42e-7],[65.10,4.38e-8],[65.25,1.17e-7],[65.44,7.9e-8],[65.67,7.16e-8],[65.82,5.88e-8],[66.05,4.83e-8],[66.28,4.38e-8],[66.51,3.97e-8],[66.69,3.57e-8],[66.75,1.23e-7],[66.89,3.97e-8],[67.12,3.57e-8],[67.43,4.17e-8],[67.73,3.78e-8],[68.04,4.38e-8],[68.35,4.17e-8],[68.58,4.83e-8],[68.88,5.07e-8],[69.11,4.83e-8],[69.34,6.18e-8],[69.57,5.88e-8],[69.77,9.16e-8],[69.96,4.38e-8],[70.11,4.83e-8],[70.34,6.5e-8],[70.57,4.83e-8],[70.80,4.38e-8],[71.03,4.6e-8],[71.26,3.78e-8],[71.41,4.38e-8]
];

// minor log ticks (2..9 x 10^n)
const minorTicks = [];
for (let e = -9; e <= -3; e++) for (let k = 2; k <= 9; k++) minorTicks.push(Number(k + 'e' + e));

const FONT = 'DejaVu Sans';
const colors = ['#ffc400', '#ff0000', '#00ffff', '#0000ff'];
const widths = [1.4, 1.8, 1.4, 1.9];
const dataSets = [goes18Long, goes16Long, goes18Short, goes16Short];

const logCommon = { type: 'log', logBase: 10, min: 1e-9, max: 1e-2 };
const tickLine = { color: '#000', width: 1 };

const series = dataSets.map((d, i) => ({
  name: seriesNames[i], type: 'line', data: d, showSymbol: false, symbol: 'none',
  lineStyle: { color: colors[i], width: widths[i] }, itemStyle: { color: colors[i] },
  clip: true, animation: false, z: 2 + i
}));
series[0].markLine = {
  silent: true, symbol: 'none', animation: false,
  label: { show: false },
  lineStyle: { color: '#000', width: 1, type: 'solid' },
  data: dayBoundaries.map(v => ({ xAxis: v }))
};

// inward tick marks drawn through the y scale (left + right edges)
function tickSeries(values, len, sides) {
  return {
    type: 'custom', silent: true, animation: false, clip: false, z: 20,
    data: values.map(v => [0, v]), encode: { x: 0, y: 1 },
    renderItem: (params, api) => {
      const y = Math.round(api.coord([0, api.value(1)])[1]) + 0.5;
      const cs = params.coordSys;
      const kids = [];
      if (sides.indexOf('l') >= 0) kids.push({ type: 'line', shape: { x1: cs.x, y1: y, x2: cs.x + len, y2: y }, style: { stroke: '#000', lineWidth: 1 } });
      if (sides.indexOf('r') >= 0) kids.push({ type: 'line', shape: { x1: cs.x + cs.width - len, y1: y, x2: cs.x + cs.width, y2: y }, style: { stroke: '#000', lineWidth: 1 } });
      return { type: 'group', children: kids };
    }
  };
}
series.push(tickSeries(minorTicks, 6, 'lr'));
series.push(tickSeries(classTickValues, 10, 'r'));

const option = {
  animation: false,
  backgroundColor: '#ffffff',
  textStyle: { fontFamily: FONT },
  grid: { left: 100, right: 60, top: 15, bottom: 89, show: true, borderColor: '#000', borderWidth: 1.2, containLabel: false, outerBoundsMode: 'none' },
  legend: {
    left: 837, top: 23, width: 362, orient: 'horizontal',
    padding: [6, 5, 4, 4], itemGap: 7, itemWidth: 29, itemHeight: 1.6, icon: 'rect',
    borderColor: '#cccccc', borderWidth: 1, borderRadius: 3, backgroundColor: '#ffffff',
    data: [
      { name: seriesNames[0], textStyle: { width: 145 } },
      { name: seriesNames[2] },
      { name: seriesNames[1], textStyle: { width: 145 } },
      { name: seriesNames[3] }
    ],
    formatter: n => '{n|' + n.slice(0, -1) + '}{i|Å}',
    textStyle: {
      fontFamily: FONT, fontSize: 13.5, color: '#000', padding: [0, 0, 0, 7], lineHeight: 17,
      rich: { n: { fontFamily: FONT, fontSize: 13.5, color: '#000' }, i: { fontFamily: FONT, fontSize: 13.5, fontStyle: 'italic', color: '#000' } }
    }
  },
  xAxis: {
    type: 'value', min: 0, max: 72, interval: 8,
    axisLine: { show: true, lineStyle: { color: '#000', width: 1.2 } },
    axisTick: { show: true, inside: true, length: 8, lineStyle: tickLine },
    axisLabel: {
      fontFamily: FONT, fontSize: 20, color: '#000', margin: 3, lineHeight: 24,
      showMinLabel: true, showMaxLabel: true,
      formatter: v => xTickLabels[Math.round(v / 8)] || ''
    },
    splitLine: { show: false },
    name: 'Time (UTC)', nameLocation: 'middle', nameGap: 55, nameMoveOverlap: false,
    nameTextStyle: { fontFamily: FONT, fontSize: 20, color: '#000' }
  },
  yAxis: [
    Object.assign({}, logCommon, {
      position: 'left',
      axisLine: { show: true, lineStyle: { color: '#000', width: 1.2 } },
      axisTick: { show: true, inside: true, length: 10, lineStyle: tickLine },
      axisLabel: {
        margin: 7, color: '#000',
        formatter: v => {
          const e = Math.round(Math.log10(v));
          if (yTickPowers.indexOf(e) < 0) return '';
          return '{b|10}{s|\u2212' + (-e) + '}';
        },
        rich: {
          b: { fontFamily: FONT, fontSize: 20, color: '#000' },
          s: { fontFamily: FONT, fontSize: 14, color: '#000', padding: [0, 0, 12, 1] }
        }
      },
      splitLine: { show: true, lineStyle: { color: '#b0b0b0', width: 1 } },
      name: '{a|Flux (Watts \u00b7 m}{s|\u22122}{a|)}', nameLocation: 'middle', nameGap: 62, nameMoveOverlap: false,
      nameTextStyle: {
        rich: {
          a: { fontFamily: FONT, fontSize: 20, color: '#000' },
          s: { fontFamily: FONT, fontSize: 14, color: '#000', padding: [0, 0, 10, 0] }
        }
      }
    }),
    Object.assign({}, logCommon, {
      position: 'right',
      axisLine: { show: true, lineStyle: { color: '#000', width: 1.2 } },
      axisTick: { show: false },
      axisLabel: {
        show: true, margin: 8, fontFamily: FONT, fontSize: 20, color: '#000',
        customValues: classTickValues,
        formatter: v => classLetters[Math.round(Math.log10(v) + 7.5)] || ''
      },
      splitLine: { show: false },
      name: 'GOES Class', nameLocation: 'middle', nameGap: 27, nameRotate: 90, nameMoveOverlap: false,
      nameTextStyle: { fontFamily: FONT, fontSize: 20, color: '#000' }
    })
  ],
  graphic: [{
    type: 'text', x: 1915, y: 543, z: 100,
    style: { text: watermark, font: '15px "DejaVu Sans"', fill: '#000', align: 'right', verticalAlign: 'middle' }
  }],
  series: series
};

const chart = echarts.init(document.getElementById('c'), null, { renderer: 'canvas' });
chart.setOption(option);
</script></body></html>
